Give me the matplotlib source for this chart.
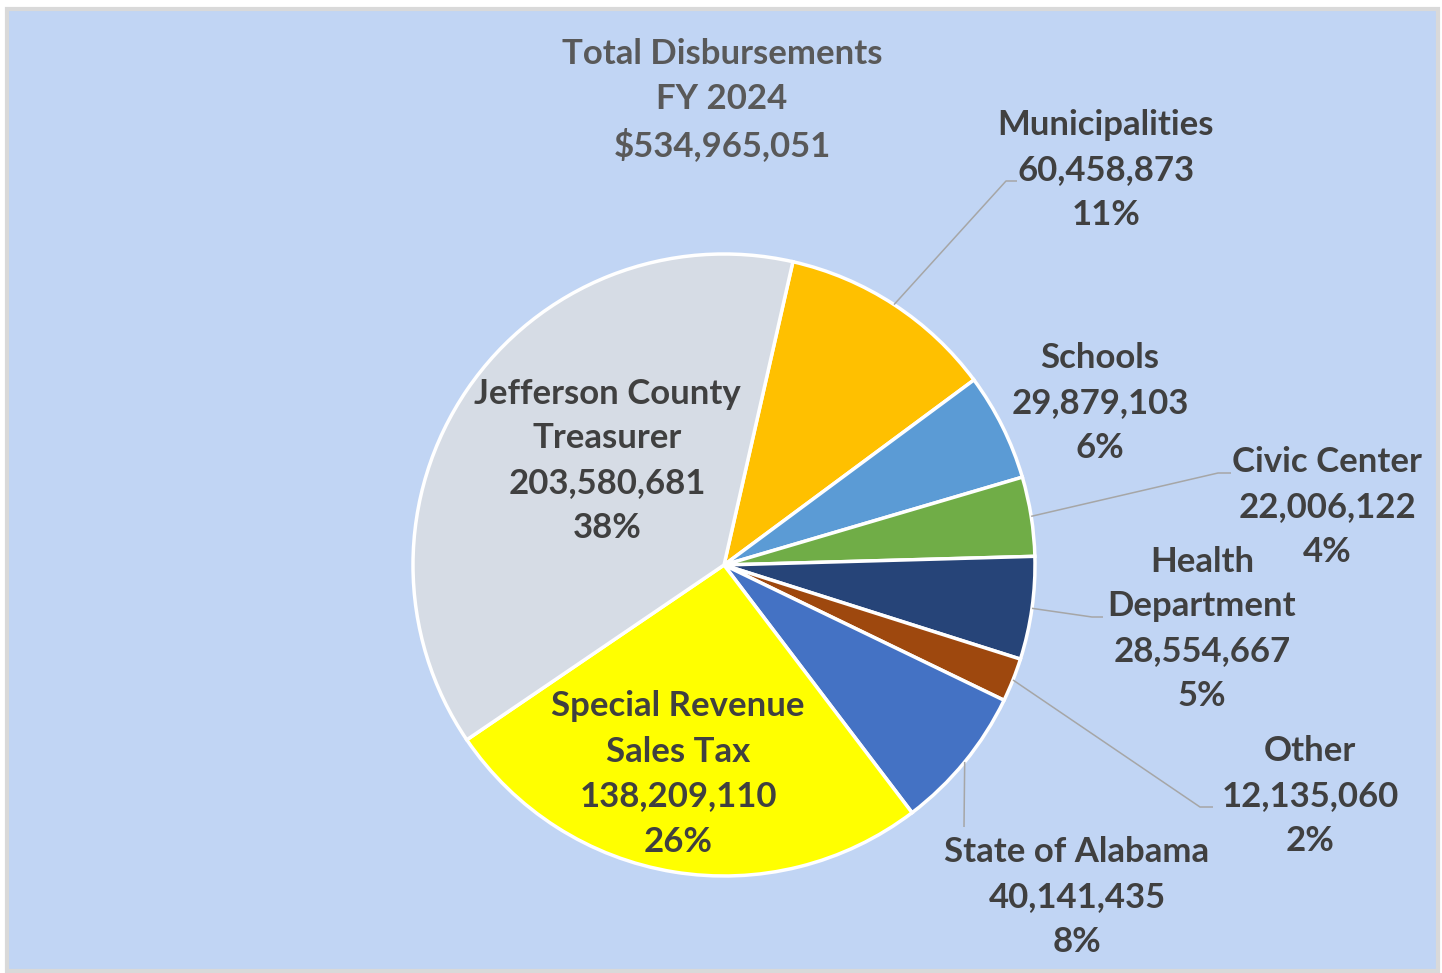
import matplotlib
matplotlib.use("Agg")
import matplotlib.pyplot as plt
from matplotlib.patches import Rectangle
import numpy as np

# ---- data ----
categories = ["Municipalities", "Schools", "Civic Center", "Health\nDepartment",
              "Other", "State of Alabama", "Special Revenue\nSales Tax",
              "Jefferson County\nTreasurer"]
values = [60458873, 29879103, 22006122, 28554667, 12135060, 40141435,
          138209110, 203580681]
colors = ["#FFC000", "#5B9BD5", "#70AD47", "#264478", "#9E480E", "#4472C4",
          "#FFFF00", "#D6DCE5"]
title_lines = ["Total Disbursements", "FY 2024", "$534,965,051"]

# ---- layout (pixel coords, y from top of the image) ----
W, H = 1442, 973
center_ref = (724, 565)
radius = 311
start_angle = 77.2
label_pos = [(1106, 170), (1100, 403), (1327, 507), (1202, 629),
             (1310, 796), (1077, 897), (678, 774), (607, 461)]
# leader elbow points (None = no leader)
elbows = [((1006, 181), (1017, 181)), None, ((1218, 473), (1231, 473)),
          ((1092, 617), (1103, 617)), ((1200, 807), (1213, 807)),
          ((964, 827), (964, 827)), None, None]

FONT = "Lato"
FS = 25
LS = 1.5
TXT = "#404040"

fig = plt.figure(figsize=(W / 100, H / 100), dpi=100)
fig.patch.set_facecolor("white")
ax = fig.add_axes([0, 0, 1, 1])

def Y(y):
    return H - y

cx, cy = center_ref[0], Y(center_ref[1])

wedges, _ = ax.pie(values, colors=colors, startangle=start_angle,
                   counterclock=False, radius=radius, center=(cx, cy),
                   wedgeprops=dict(edgecolor="white", linewidth=2.5),
                   frame=False)
ax.set_xlim(0, W)
ax.set_ylim(0, H)
ax.set_aspect("auto")
ax.axis("off")

# background panel with grey frame
ax.add_patch(Rectangle((7, Y(971)), 1431, 971 - 9, facecolor="#C1D5F4",
                       edgecolor="#D9D9D9", linewidth=3, zorder=-10))

total = sum(values)
for i, (cat, v) in enumerate(zip(categories, values)):
    pct = v / total * 100
    text = f"{cat}\n{v:,}\n{pct:.0f}%"
    lx, ly = label_pos[i]
    ax.text(lx, Y(ly), text, ha="center", va="center", ma="center",
            fontsize=FS, fontweight="bold", family=FONT, color=TXT,
            linespacing=LS, zorder=5)
    if elbows[i] is not None:
        w = wedges[i]
        mid = np.deg2rad((w.theta1 + w.theta2) / 2)
        sx, sy = cx + radius * np.cos(mid), cy + radius * np.sin(mid)
        (ex, ey), (hx, hy) = elbows[i]
        ax.plot([sx, ex, hx], [sy, Y(ey), Y(hy)], color="#A6A6A6",
                lw=1.1, zorder=4, solid_capstyle="butt")

ax.text(722, Y(100), "\n".join(title_lines), ha="center", va="center",
        ma="center", fontsize=FS, fontweight="bold", family=FONT,
        color="#595959", linespacing=LS, zorder=5)

fig.savefig("out.png", dpi=100, facecolor="white")
